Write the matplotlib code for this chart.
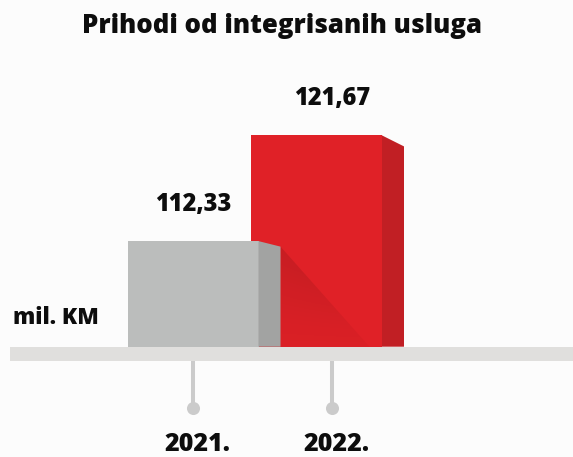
import numpy as np
import matplotlib
matplotlib.use("Agg")
import matplotlib.pyplot as plt
from matplotlib.patches import Polygon, Rectangle

# --- data ---
title = "Prihodi od integrisanih usluga"
unit_label = "mil. KM"
years = ["2021.", "2022."]
values = [112.33, 121.67]
value_labels = ["112,33", "121,67"]

# --- style ---
FONT = "Open Sans"
WEIGHT = 800
W, H, DPI = 573, 457, 100
front_colors = ["#bbbdbc", "#e02127"]
side_colors = ["#a2a3a2", "#c11f24"]
band_color = "#e0dfdd"
tick_color = "#cbcbcb"
bg_color = "#fcfcfc"
text_color = "#0d0d0d"

# axis scale: pixels per data unit
PX_X = 139.0
PX_Y = 11.317
BASE = 103.0          # value at which the bars stand on the band
base_px_from_top = 346.7
x0_px = 193.0         # pixel position of the first category

fig = plt.figure(figsize=(W / DPI, H / DPI), dpi=DPI, facecolor=bg_color)
ax = fig.add_axes([0, 0, 1, 1])
ax.set_facecolor(bg_color)
ax.set_xlim(-x0_px / PX_X, (W - x0_px) / PX_X)
ax.set_ylim(BASE - (H - base_px_from_top) / PX_Y, BASE + base_px_from_top / PX_Y)
ax.axis("off")

dx = lambda px: px / PX_X
dy = lambda px: px / PX_Y

pos = np.arange(len(values), dtype=float)
bar_shift = [0.0, dx(-15.5)]     # front faces sit slightly left of the category centre
bar_w = dx(131)
depth = dx(22)
slant = [dy(5.5), dy(11)]

# bars: the later one is drawn first so the earlier one overlaps it
for i in reversed(range(len(values))):
    xc = pos[i] + bar_shift[i]
    ax.bar(xc, values[i] - BASE, bottom=BASE, width=bar_w,
           color=front_colors[i], edgecolor="none", zorder=2)
    xr = xc + bar_w / 2
    side = Polygon([(xr, BASE), (xr, values[i]), (xr + depth, values[i] - slant[i]),
                    (xr + depth, BASE)], closed=True, facecolor=side_colors[i],
                   edgecolor="none", zorder=2)
    ax.add_patch(side)
    if i == 1:
        # shadow cast by the first bar onto this one
        g_xr = pos[0] + bar_shift[0] + bar_w / 2 + depth
        g_top = values[0] - slant[0]
        run = dx(89)
        shadow = Polygon([(g_xr, g_top), (g_xr + run, BASE), (g_xr, BASE)],
                         closed=True, facecolor="none", edgecolor="none", zorder=3)
        ax.add_patch(shadow)
        ny, nx = 100, 60
        yy, xx = np.mgrid[0:1:ny * 1j, 0:1:nx * 1j]
        alpha = 0.15 * (1 - yy) ** 1.3 * (0.6 + 0.4 * xx) + 0.025
        img = np.zeros((ny, nx, 4))
        img[..., 3] = alpha
        im = ax.imshow(img, extent=(g_xr, g_xr + run, BASE, g_top), origin="upper",
                       aspect="auto", zorder=3, interpolation="bilinear")
        im.set_clip_path(shadow)

# horizontal band under the bars
ax.add_patch(Rectangle((dx(10) - x0_px / PX_X, BASE - dy(14)), dx(W), dy(14),
                       facecolor=band_color, edgecolor="none", zorder=4))

# tick stems with round ends
stem_top = BASE - dy(14)
stem_bot = BASE - dy(61)
for p in pos:
    ax.plot([p, p], [stem_top, stem_bot], color=tick_color, lw=2.9,
            solid_capstyle="butt", zorder=4)
    ax.plot(p, stem_bot, "o", color=tick_color, ms=9.4, mec="none", zorder=4)

# year labels
for p, lab in zip(pos, years):
    ax.text(p + dx(4), BASE - dy(104), lab, ha="center", va="baseline",
            fontsize=18, fontweight=WEIGHT, family=FONT, color=text_color)

# value labels
for p, v, lab in zip(pos, values, value_labels):
    ax.text(p, v + dy(30), lab, ha="center", va="baseline",
            fontsize=17, fontweight=WEIGHT, family=FONT, color=text_color)

# unit label
ax.text(dx(13) - x0_px / PX_X, BASE + dy(23), unit_label, ha="left", va="baseline",
        fontsize=16, fontweight=WEIGHT, family=FONT, color=text_color)

fig.text(282 / W, 1 - 33 / H, title, ha="center", va="baseline",
         fontsize=18.5, fontweight=WEIGHT, family=FONT, color=text_color)

fig.savefig("out.png", dpi=DPI, facecolor=bg_color)
